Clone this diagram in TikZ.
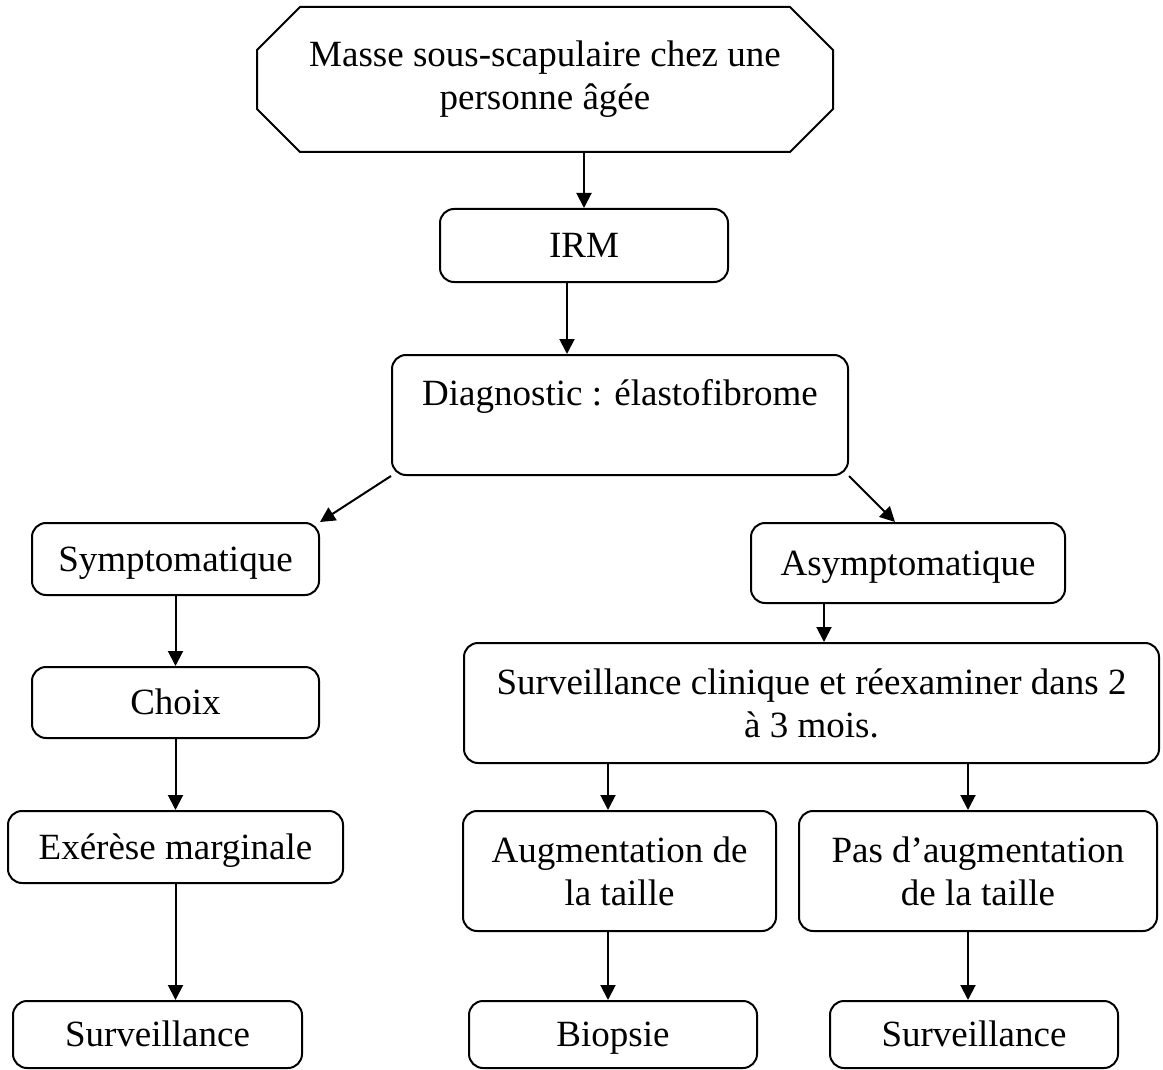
\documentclass[tikz,border=0pt]{standalone}
\usepackage{fontspec}
\setmainfont{Liberation Serif}
\usetikzlibrary{arrows.meta}
\begin{document}
\begin{tikzpicture}[
  x=0.5pt, y=-0.5pt,
  elastotxt/.style = {font=\fontsize{18.5}{21.5}\selectfont, align=center},
  elastobox/.style = {elastotxt, draw, line width=1pt, rounded corners=7pt, inner sep=0pt},
  elastoone/.style = {elastobox, text height=16pt, text depth=4pt},
  elastotop/.style = {elastotxt, inner sep=0pt, outer sep=0pt},
  elastoline/.style = {line width=1pt, line join=miter},
  elastoarr/.style = {line width=1pt, -{Triangle[length=7.5pt,width=7.5pt]}}
]
  \useasboundingbox (0,0) rectangle (1163,1070);
  % tete : octogone
  \node[elastotop, minimum width=288pt, minimum height=72.5pt] (top) at (545,79.5)
    {Masse sous-scapulaire chez une\\personne âgée};
  \draw[elastoline] ([xshift=21.5pt]top.north west) -- ([xshift=-21.5pt]top.north east)
    -- ([yshift=-21.5pt]top.north east) -- ([yshift=21.5pt]top.south east)
    -- ([xshift=-21.5pt]top.south east) -- ([xshift=21.5pt]top.south west)
    -- ([yshift=21.5pt]top.south west) -- ([yshift=-21.5pt]top.north west) -- cycle;
  \node[elastoone, minimum width=144pt, minimum height=36.5pt] (irm) at (584,245.5) {IRM};
  \node[elastobox, minimum width=228pt, text height=25pt, text depth=35pt, anchor=base]
    (diag) at (620,405) {Diagnostic : élastofibrome};
  % branche gauche
  \node[elastoone, minimum width=143.5pt, minimum height=36pt] (sympt) at (175.5,559) {Symptomatique};
  \node[elastoone, minimum width=143.5pt, minimum height=35.5pt] (choix) at (175.5,702.5) {Choix};
  \node[elastoone, minimum width=167.5pt, minimum height=36pt] (exer) at (175.5,847) {Exérèse marginale};
  \node[elastoone, minimum width=144.5pt, minimum height=33.5pt] (survg) at (157.5,1034.5) {Surveillance};
  % branche droite
  \node[elastoone, minimum width=157pt, minimum height=40pt] (asym) at (908,563) {Asymptomatique};
  \node[elastobox, minimum width=347.5pt, minimum height=60pt] (clin) at (811.5,703)
    {Surveillance clinique et réexaminer dans 2\\à 3 mois.};
  \node[elastobox, minimum width=156.5pt, minimum height=60pt] (aug) at (619.5,871)
    {Augmentation de\\la taille};
  \node[elastobox, minimum width=179pt, minimum height=60pt] (pas) at (978,871)
    {Pas d’augmentation\\de la taille};
  \node[elastoone, minimum width=144pt, minimum height=33.5pt] (biop) at (613,1034.5) {Biopsie};
  \node[elastoone, minimum width=144pt, minimum height=33.5pt] (survd) at (974,1034.5) {Surveillance};

  % fleches
  \draw[elastoarr] (top.south -| irm.north) -- (irm.north);
  \draw[elastoarr] ([xshift=-8.5pt]irm.south) -- ([xshift=-8.5pt]irm.south |- diag.north);
  \draw[elastoarr] (diag.south west) -- (sympt.north east);
  \draw[elastoarr] (diag.south east) -- ([xshift=-6.5pt]asym.north);
  \draw[elastoarr] (sympt) -- (choix);
  \draw[elastoarr] (choix) -- (exer);
  \draw[elastoarr] (exer.south) -- (exer.south |- survg.north);
  \draw[elastoarr] ([xshift=-42pt]asym.south) -- ([xshift=-42pt]asym.south |- clin.north);
  \draw[elastoarr] ([xshift=-5.75pt]aug.north |- clin.south) -- ([xshift=-5.75pt]aug.north);
  \draw[elastoarr] ([xshift=-5pt]pas.north |- clin.south) -- ([xshift=-5pt]pas.north);
  \draw[elastoarr] ([xshift=-5.75pt]aug.south) -- ([xshift=-5.75pt]aug.south |- biop.north);
  \draw[elastoarr] ([xshift=-5pt]pas.south) -- ([xshift=-5pt]pas.south |- survd.north);
\end{tikzpicture}
\end{document}
